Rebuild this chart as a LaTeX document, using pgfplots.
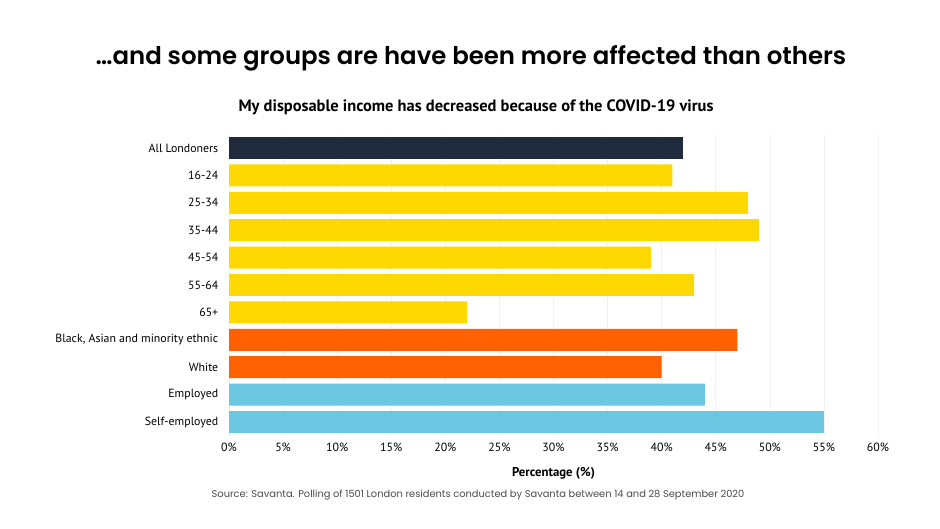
\documentclass[border=0pt]{standalone}
\usepackage{pgfplots}
\pgfplotsset{compat=1.18}
\usepackage{fontspec}
\setmainfont{PT Sans}
\newfontfamily\titlefont{Poppins}[BoldFont={Poppins SemiBold}]
\definecolor{navy}{HTML}{1F2A3C}
\definecolor{cyel}{HTML}{FFD800}
\definecolor{corg}{HTML}{FF6000}
\definecolor{cblue}{HTML}{6CC7E3}
\begin{document}
\begin{tikzpicture}[x=1bp,y=1bp]
\path[use as bounding box, fill=white] (0,0) rectangle (940,529);
\node[font=\titlefont\fontsize{24.5}{26}\selectfont\bfseries] at (471,471) {\ldots and some groups are have been more affected than others};
\node[font=\fontsize{16.5}{18}\selectfont\bfseries] at (476,422) {My disposable income has decreased because of the COVID-19 virus};
\begin{axis}[
  at={(229bp,93.3bp)}, anchor=south west,
  scale only axis, width=649bp, height=301.4bp,
  xbar, bar shift=0pt, bar width=0.8,
  xmin=0, xmax=60, ymin=-0.5, ymax=10.5,
  y dir=reverse,
  axis line style={draw=none},
  major tick style={draw=none},
  xmajorgrids, grid style={draw=gray!10, line width=0.6pt},
  xtick={0,5,...,60},
  xticklabel={\pgfmathprintnumber{\tick}\%},
  /pgf/number format/assume math mode=true,
  ytick={0,...,10},
  yticklabels={All Londoners,16-24,25-34,35-44,45-54,55-64,65+,{Black, Asian and minority ethnic},White,Employed,Self-employed},
  ticklabel style={font=\fontsize{11.9}{13}\selectfont},
  yticklabel style={xshift=-3bp},
  xticklabel style={yshift=-4bp},
  xlabel={\bfseries Percentage (\%)},
  xlabel style={font=\fontsize{12.8}{14}\selectfont, yshift=-9bp},
]
\addplot[fill=navy, draw=none] coordinates {(42,0)};
\addplot[fill=cyel, draw=none] coordinates {(41,1) (48,2) (49,3) (39,4) (43,5) (22,6)};
\addplot[fill=corg, draw=none] coordinates {(47,7) (40,8)};
\addplot[fill=cblue, draw=none] coordinates {(44,9) (55,10)};
\end{axis}
\node[font=\titlefont\fontsize{9.9}{11}\selectfont, text=black!70] at (478,34) {Source: Savanta. Polling of 1501 London residents conducted by Savanta between 14 and 28 September 2020};
\end{tikzpicture}
\end{document}
